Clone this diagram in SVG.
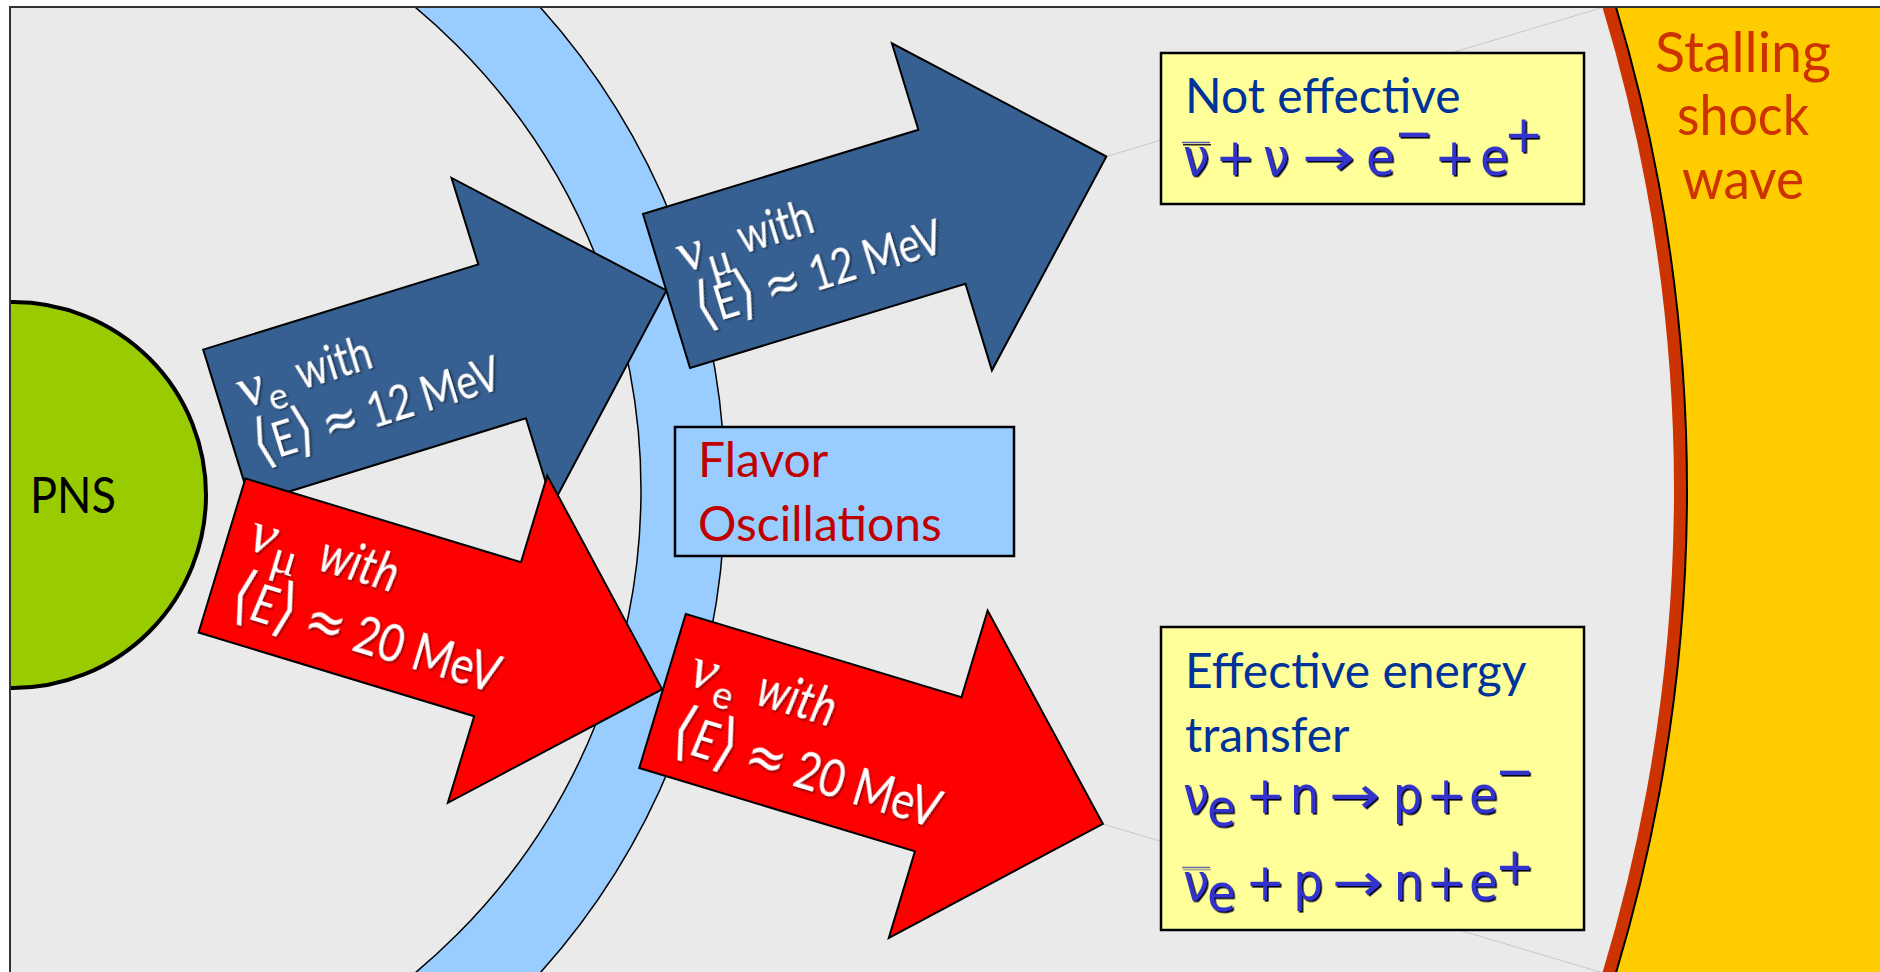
<svg xmlns="http://www.w3.org/2000/svg" width="1880" height="972" viewBox="0 0 1880 972">
  <style>
    .sans { font-family: Lato, "Noto Sans", "DejaVu Sans", sans-serif; }
    .serif { font-family: "Liberation Serif", "DejaVu Serif", serif; }
    .math { font-family: "DejaVu Sans", sans-serif; }
    .brk { font-family: "DejaVu Sans", sans-serif; font-size: 1.25em; }
    .apx { font-family: "DejaVu Sans", sans-serif; font-size: 1.1em; }
    .arrow-blue { fill: #376092; stroke: #000; stroke-width: 2; stroke-linejoin: miter; }
    .arrow-red { fill: #FF0000; stroke: #000; stroke-width: 2; stroke-linejoin: miter; }
    .lbl { fill: #fff; filter: url(#txtShadow); }
    .box-y { fill: #FFFF99; stroke: #000; stroke-width: 2.5; }
    .box-b { fill: #99CCFF; stroke: #000; stroke-width: 2.5; }
    .title { fill: #003399; font-size: 48px; }
    .eq { fill: #3333CC; font-size: 52px; filter: url(#eqShadow); font-stretch: condensed; }
    .c { text-anchor: middle; }
    .ray { stroke: #C8C8C8; stroke-width: 1; fill: none; }
  </style>
  <defs>
    <clipPath id="frameClip">
      <rect x="10" y="7" width="1870" height="965"/>
    </clipPath>
    <filter id="txtShadow" x="-10%" y="-30%" width="120%" height="160%">
      <feDropShadow dx="1.5" dy="1.5" stdDeviation="0.8" flood-color="#000" flood-opacity="0.55"/>
    </filter>
    <filter id="eqShadow" x="-10%" y="-30%" width="130%" height="160%">
      <feDropShadow dx="1.6" dy="1.6" stdDeviation="0.3" flood-color="#000018" flood-opacity="1"/>
    </filter>
    <!-- block arrow in local coordinates: tail centre at origin, pointing +x -->
    <path id="blockArrow" d="M0,-80.5 H288 V-171 L460,0 L288,171 V80.5 H0 Z"/>
  </defs>

  <rect width="1880" height="972" fill="#fff"/>

  <g clip-path="url(#frameClip)">
    <!-- shock wave region -->
    <g id="shock">
      <rect x="10" y="7" width="1870" height="965" fill="#FFCC00"/>
      <circle cx="10" cy="490" r="1677" fill="#EAEAEA"/>
      <circle cx="10" cy="490" r="1670.5" fill="none" stroke="#CC3300" stroke-width="13"/>
      <circle cx="10" cy="490" r="1677" fill="none" stroke="#000" stroke-width="2"/>
      <g class="sans" fill="#CC3300" font-size="57" text-anchor="middle">
        <text x="1743" y="72" textLength="176" lengthAdjust="spacingAndGlyphs">Stalling</text>
        <text x="1743" y="135" textLength="132" lengthAdjust="spacingAndGlyphs">shock</text>
        <text x="1743" y="199" textLength="122" lengthAdjust="spacingAndGlyphs">wave</text>
      </g>
    </g>

    <!-- oscillation shell -->
    <g id="shell">
      <path d="M725,490 A723,723 0 1,0 -721,490 A723,723 0 1,0 725,490 Z M641,490 A629,629 0 1,0 -617,490 A629,629 0 1,0 641,490 Z" fill="#99CCFF" fill-rule="evenodd" stroke="#000" stroke-width="1.5"/>
    </g>

    <!-- proto-neutron star -->
    <g id="pns">
      <circle cx="13" cy="495" r="193" fill="#99CC00" stroke="#000" stroke-width="4"/>
      <text class="sans" x="30" y="513" font-size="51" fill="#000" textLength="86" lengthAdjust="spacingAndGlyphs">PNS</text>
    </g>

    <!-- faint rays towards the shock -->
    <g id="connectors">
      <line class="ray" x1="1108" y1="156" x2="1604" y2="7"/>
      <line class="ray" x1="1103" y1="824" x2="1600" y2="972"/>
    </g>

    <!-- upper left: nu_e, 12 MeV -->
    <g id="arrow-nue-12" transform="translate(227,426.5) rotate(-17.2)">
      <use href="#blockArrow" class="arrow-blue"/>
      <g class="lbl">
        <text class="serif" x="21" y="-13" font-size="58">ν</text>
        <text class="sans" x="48" y="-1" font-size="36">e</text>
        <text class="sans" x="82" y="-13" font-size="48" textLength="77" lengthAdjust="spacingAndGlyphs">with</text>
        <text class="sans" x="20" y="45" font-size="48" textLength="256" lengthAdjust="spacingAndGlyphs"><tspan class="brk">⟨</tspan>E<tspan class="brk">⟩</tspan> <tspan class="apx">≈</tspan> 12 MeV</text>
      </g>
    </g>

    <!-- lower left: nu_mu, 20 MeV -->
    <g id="arrow-numu-20" transform="translate(222,555.5) rotate(16.9)">
      <use href="#blockArrow" class="arrow-red"/>
      <g class="lbl">
        <text class="serif" x="21" y="-14" font-size="60" font-style="italic">ν</text>
        <text class="serif" x="48" y="0" font-size="48">μ</text>
        <text class="sans" x="94" y="-14" font-size="52" font-style="italic" textLength="80" lengthAdjust="spacingAndGlyphs">with</text>
        <text class="sans" x="22" y="53" font-size="52" textLength="278" lengthAdjust="spacingAndGlyphs"><tspan class="brk">⟨</tspan><tspan font-style="italic">E</tspan><tspan class="brk">⟩</tspan> <tspan class="apx">≈</tspan> 20 MeV</text>
      </g>
    </g>

    <!-- upper right: nu_mu, 12 MeV -->
    <g id="arrow-numu-12" transform="translate(666.5,291) rotate(-17)">
      <use href="#blockArrow" class="arrow-blue"/>
      <g class="lbl">
        <text class="serif" x="21" y="-13" font-size="58">ν</text>
        <text class="serif" x="47" y="1" font-size="46">μ</text>
        <text class="sans" x="84" y="-13" font-size="48" textLength="77" lengthAdjust="spacingAndGlyphs">with</text>
        <text class="sans" x="23" y="44" font-size="48" textLength="256" lengthAdjust="spacingAndGlyphs"><tspan class="brk">⟨</tspan>E<tspan class="brk">⟩</tspan> <tspan class="apx">≈</tspan> 12 MeV</text>
      </g>
    </g>

    <!-- lower right: nu_e, 20 MeV -->
    <g id="arrow-nue-20" transform="translate(662.5,691) rotate(16.8)">
      <use href="#blockArrow" class="arrow-red"/>
      <g class="lbl">
        <text class="serif" x="21" y="-14" font-size="60" font-style="italic">ν</text>
        <text class="sans" x="49" y="0" font-size="38">e</text>
        <text class="sans" x="91" y="-14" font-size="52" font-style="italic" textLength="80" lengthAdjust="spacingAndGlyphs">with</text>
        <text class="sans" x="22" y="53" font-size="52" textLength="278" lengthAdjust="spacingAndGlyphs"><tspan class="brk">⟨</tspan><tspan font-style="italic">E</tspan><tspan class="brk">⟩</tspan> <tspan class="apx">≈</tspan> 20 MeV</text>
      </g>
    </g>

    <!-- flavor oscillations label -->
    <g id="flavor">
      <rect class="box-b" x="675" y="427" width="339" height="129"/>
      <g class="sans" fill="#C00000" font-size="48">
        <text x="698" y="477">Flavor</text>
        <text x="698" y="541">Oscillations</text>
      </g>
    </g>

    <!-- not effective: pair annihilation -->
    <g id="not-effective">
      <rect class="box-y" x="1161" y="53" width="423" height="151"/>
      <text class="sans title" x="1185" y="113">Not effective</text>
      <line x1="1182" y1="142.5" x2="1210" y2="142.5" stroke="#5555BB" stroke-width="1.5"/>
      <line x1="1183" y1="144.8" x2="1211" y2="144.8" stroke="#000" stroke-width="1.3"/>
      <g class="math">
        <text class="eq c" x="1196" y="175">ν</text>
        <text class="eq c" x="1235" y="175">+</text>
        <text class="eq c" x="1276" y="175">ν</text>
        <text class="eq" x="1302" y="175" textLength="53" lengthAdjust="spacingAndGlyphs">→</text>
        <text class="eq c" x="1380.5" y="175">e</text>
        <text class="eq c" x="1413.5" y="151" font-size="38">−</text>
        <text class="eq c" x="1454" y="175">+</text>
        <text class="eq c" x="1494.5" y="175">e</text>
        <text class="eq c" x="1523.5" y="152" font-size="44">+</text>
      </g>
    </g>

    <!-- effective: charged-current captures -->
    <g id="effective">
      <rect class="box-y" x="1161" y="627" width="423" height="303"/>
      <text class="sans title" x="1185" y="688">Effective energy</text>
      <text class="sans title" x="1185" y="752">transfer</text>
      <g class="math">
        <text class="eq c" x="1196" y="813">ν</text>
        <text class="eq c" x="1221.5" y="826">e</text>
        <text class="eq c" x="1265" y="813">+</text>
        <text class="eq c" x="1304.5" y="813">n</text>
        <text class="eq" x="1329" y="813" textLength="51" lengthAdjust="spacingAndGlyphs">→</text>
        <text class="eq c" x="1407.5" y="813">p</text>
        <text class="eq c" x="1446" y="813">+</text>
        <text class="eq c" x="1483.5" y="813">e</text>
        <text class="eq c" x="1514.5" y="789" font-size="38">−</text>
      </g>
      <line x1="1182" y1="867.5" x2="1210" y2="867.5" stroke="#6666AA" stroke-width="1.5"/>
      <line x1="1183" y1="869.8" x2="1211" y2="869.8" stroke="#888" stroke-width="1"/>
      <g class="math">
        <text class="eq c" x="1196" y="900">ν</text>
        <text class="eq c" x="1221.5" y="911">e</text>
        <text class="eq c" x="1265" y="900">+</text>
        <text class="eq c" x="1308" y="900">p</text>
        <text class="eq" x="1332" y="900" textLength="51" lengthAdjust="spacingAndGlyphs">→</text>
        <text class="eq c" x="1408.5" y="900">n</text>
        <text class="eq c" x="1446" y="900">+</text>
        <text class="eq c" x="1483.5" y="900">e</text>
        <text class="eq c" x="1514.5" y="884" font-size="42">+</text>
      </g>
    </g>
  </g>

  <!-- slide frame -->
  <rect x="10" y="7" width="1880" height="1000" fill="none" stroke="#333" stroke-width="2"/>
</svg>
